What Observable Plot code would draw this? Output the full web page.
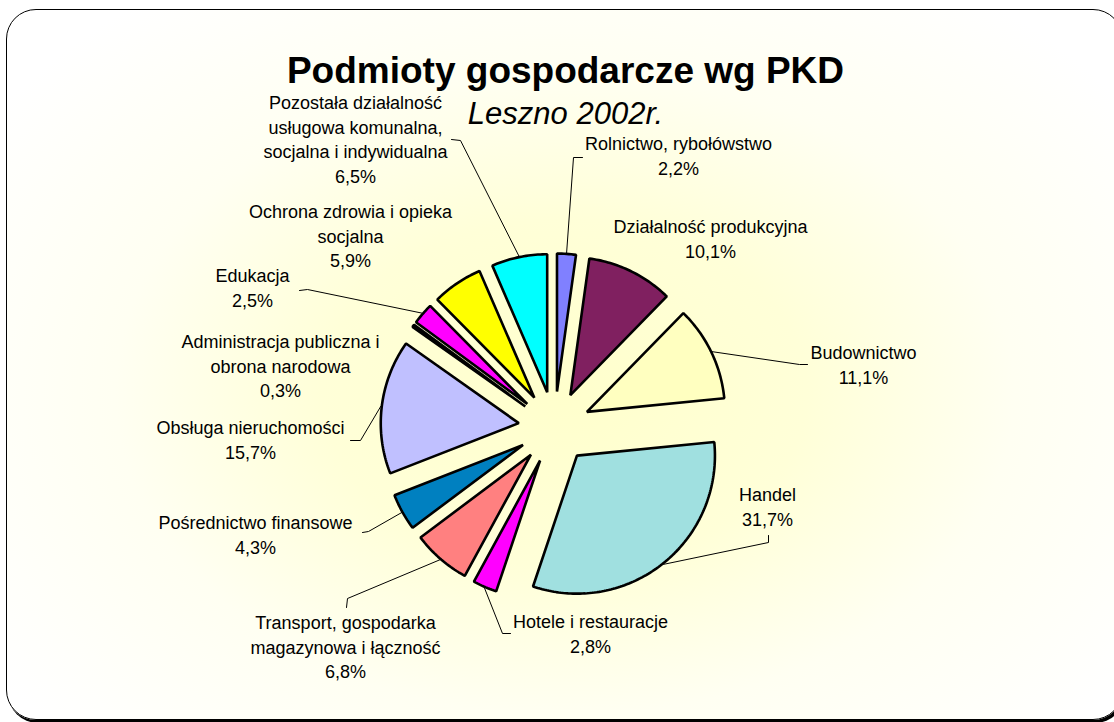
<!DOCTYPE html>
<html>
<head>
<meta charset="utf-8">
<script src="https://cdn.jsdelivr.net/npm/d3@7"></script>
<script src="https://cdn.jsdelivr.net/npm/@observablehq/plot@0.6"></script>
<style>
  html, body { margin: 0; padding: 0; width: 1114px; height: 722px; overflow: hidden; background: #fff; }
  #frame {
    position: absolute; left: 6px; top: 9px; width: 1115px; height: 709px;
    border: 1.5px solid #000; border-radius: 30px;
    background: radial-gradient(ellipse 62% 70% at 50% 54%, #ffffcc 0%, #ffffd8 35%, #fffff2 65%, #ffffff 100%);
    box-shadow: 2px 3px 0 #000;
  }
  #chart { position: absolute; left: 0; top: 0; }
  text { font-family: "Liberation Sans", Arial, sans-serif; }
</style>
</head>
<body>
<div id="frame"></div>
<div id="chart"></div>
<script>
// ---- data ----
const categories = [
  "Rolnictwo, rybołówstwo",
  "Działalność produkcyjna",
  "Budownictwo",
  "Handel",
  "Hotele i restauracje",
  "Transport, gospodarka magazynowa i łączność",
  "Pośrednictwo finansowe",
  "Obsługa nieruchomości",
  "Administracja publiczna i obrona narodowa",
  "Edukacja",
  "Ochrona zdrowia i opieka socjalna",
  "Pozostała działalność usługowa komunalna, socjalna i indywidualna"
];
const shares = [2.2, 10.1, 11.1, 31.7, 2.8, 6.8, 4.3, 15.7, 0.3, 2.5, 5.9, 6.5];
const labelLines = [
  ["Rolnictwo, rybołówstwo"],
  ["Działalność produkcyjna"],
  ["Budownictwo"],
  ["Handel"],
  ["Hotele i restauracje"],
  ["Transport, gospodarka", "magazynowa i łączność"],
  ["Pośrednictwo finansowe"],
  ["Obsługa nieruchomości"],
  ["Administracja publiczna i", "obrona narodowa"],
  ["Edukacja"],
  ["Ochrona zdrowia i opieka", "socjalna"],
  ["Pozostała działalność", "usługowa komunalna,", "socjalna i indywidualna"]
];
const sliceColors = ["#8080ff", "#802060", "#ffffc0", "#a0e0e0", "#ff00ff", "#ff8080",
                     "#0080c0", "#c0c0ff", "#ffffcc", "#ff00ff", "#ffff00", "#00ffff"];
const title = "Podmioty gospodarcze wg PKD";
const subtitle = "Leszno 2002r.";

// ---- layout (pixels relative to pie centre) ----
const W = 1114, H = 722, CX = 554, CY = 427, R = 138, EXPLODE = 36, LEADER_R = 175, LH = 24.5;
// label block: first-line centre; leader: start and elbow (null = no leader)
const labelPos = [
  [124, -283], [156, -200], [309, -74], [213, 68], [36, 195], [-209, 196],
  [-299, 96], [-304, 1], [-274, -85], [-302, -151], [-204, -215], [-199, -324]
];
const leaderPts = [
  [[28, -270], [19, -270]],
  null,
  [[253, -63], [245, -63]],
  [[214, 108], [214, 115]],
  [[-44, 206], [-52, 206]],
  [[-208, 180], [-207, 171]],
  [[-192, 105], [-186, 104]],
  [[-204, 13], [-194, 13]],
  null,
  [[-255, -137], [-247, -138]],
  null,
  [[-103, -288], [-94, -287]]
];

// ---- geometry from data ----
const pie = d3.pie().sort(null).value(d => d)(shares);
const dir = a => [Math.sin(a), -Math.cos(a)];
const slicePts = [];
const leaderData = [];
const textData = [];
pie.forEach((p, i) => {
  const mid = (p.startAngle + p.endAngle) / 2;
  const [ux, uy] = dir(mid);
  const ox = ux * EXPLODE, oy = uy * EXPLODE;
  slicePts.push({k: i, x: ox, y: oy, c: sliceColors[i]});
  const n = Math.max(2, Math.ceil((p.endAngle - p.startAngle) / (Math.PI / 180)));
  for (let j = 0; j <= n; j++) {
    const a = p.startAngle + (p.endAngle - p.startAngle) * j / n;
    const [vx, vy] = dir(a);
    slicePts.push({k: i, x: ox + R * vx, y: oy + R * vy, c: sliceColors[i]});
  }
  if (leaderPts[i]) {
    const [s, e] = leaderPts[i];
    leaderData.push({k: i, x: s[0], y: s[1]});
    leaderData.push({k: i, x: e[0], y: e[1]});
    leaderData.push({k: i, x: ux * LEADER_R, y: uy * LEADER_R});
  }
  const lines = [...labelLines[i], shares[i].toFixed(1).replace(".", ",") + "%"];
  lines.forEach((t, j) => textData.push({t, x: labelPos[i][0], y: labelPos[i][1] + j * LH}));
});

const chart = Plot.plot({
  width: W, height: H, margin: 0,
  x: {domain: [-CX, W - CX], range: [0, W], axis: null},
  y: {domain: [-CY, H - CY], range: [0, H], axis: null},
  color: {type: "identity"},
  style: {background: "transparent", fontFamily: "Liberation Sans, Arial, sans-serif"},
  marks: [
    Plot.line(slicePts, {x: "x", y: "y", z: "k", fill: "c", stroke: "#000", strokeWidth: 2.6,
      strokeLinejoin: "miter", curve: "linear-closed"}),
    Plot.line(leaderData, {x: "x", y: "y", z: "k", stroke: "#000", strokeWidth: 1}),
    Plot.text(textData, {x: "x", y: "y", text: "t", fontSize: 18, fill: "#000", textAnchor: "middle"}),
    Plot.text([title], {frameAnchor: "top", dx: 8, dy: 56, fontSize: 37, fontWeight: "bold", fill: "#000"}),
    Plot.text([subtitle], {frameAnchor: "top", dx: 8, dy: 101, fontSize: 31, fontStyle: "italic", fill: "#000"})
  ]
});
document.getElementById("chart").appendChild(chart);
</script>
</body>
</html>
